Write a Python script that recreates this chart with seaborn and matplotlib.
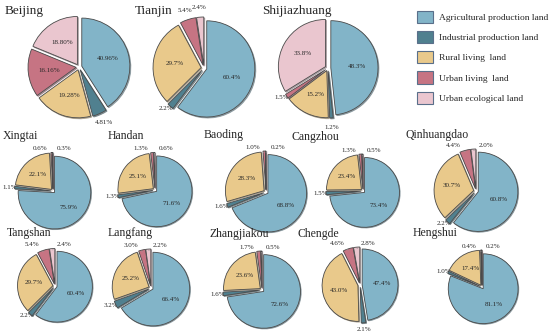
import numpy as np
import matplotlib
matplotlib.use('Agg')
import matplotlib.pyplot as plt
import seaborn as sns
from matplotlib.patches import Patch

sns.set_theme(style='white')
plt.rcParams['font.family'] = ['Liberation Serif', 'DejaVu Serif']

# land-use categories (legend order, pie order clockwise from 12 o'clock)
categories = ['Agricultural production land', 'Industrial production land',
              'Rural living  land', 'Urban living  land', 'Urban ecological land']

cities = ['Beijing', 'Tianjin', 'Shijiazhuang',
          'Xingtai', 'Handan', 'Baoding', 'Cangzhou', 'Qinhuangdao',
          'Tangshan', 'Langfang', 'Zhangjiakou', 'Chengde', 'Hengshui']

# shares in percent, one entry per city
agricultural = [40.96, 60.4, 48.3, 75.9, 71.6, 68.8, 73.4, 60.8, 60.4, 66.4, 72.6, 47.4, 81.1]
industrial = [4.81, 2.2, 1.2, 1.1, 1.3, 1.6, 1.5, 2.2, 2.2, 3.2, 1.6, 2.1, 1.0]
rural_living = [19.28, 29.7, 15.2, 22.1, 25.1, 28.3, 23.4, 30.7, 29.7, 25.2, 23.6, 43.0, 17.4]
urban_living = [16.16, 5.4, 1.5, 0.6, 1.3, 1.0, 1.3, 4.4, 5.4, 3.0, 1.7, 4.6, 0.4]
urban_ecological = [18.80, 2.4, 33.8, 0.3, 0.6, 0.2, 0.5, 2.0, 2.4, 2.2, 0.5, 2.8, 0.2]
decimals = [2] + [1] * 12

colors = sns.color_palette(['#82b4c8', '#50808f', '#e9c98b', '#c67483', '#eac6cf'])

W, H = 550, 336
EXPLODE = 0.06
L = 1.7

# pixel layout: pie centre x, y (from top), outer radius, title x, title y, title size
layout = {
    'Beijing':      (79, 67, 51, 5, 11, 9.5),
    'Tianjin':      (204, 68, 51, 135, 11, 9.5),
    'Shijiazhuang': (328, 68, 50, 262, 11, 9.5),
    'Xingtai':      (53, 191, 38.5, 3, 136, 8.5),
    'Handan':       (155, 190, 37.5, 108, 136, 8.5),
    'Baoding':      (266, 192, 41, 204, 135, 8.5),
    'Cangzhou':     (363, 191, 37, 292, 137, 8.5),
    'Qinhuangdao':  (476, 191, 42, 405, 135, 8.5),
    'Tangshan':     (55, 286, 37.5, 7, 233, 8.5),
    'Langfang':     (151, 288, 39, 108, 233, 8.5),
    'Zhangjiakou':  (262, 290, 39, 210, 234, 8.5),
    'Chengde':      (360, 285, 38, 297, 234, 8.5),
    'Hengshui':     (482, 287, 37, 413, 233, 8.5),
}
radial_small = {'Beijing', 'Tianjin', 'Shijiazhuang'}

fig = plt.figure(figsize=(W / 100, H / 100), dpi=100)


def draw_city(ax, name, values, dec):
    wedges, _ = ax.pie(values, colors=colors, startangle=90, counterclock=False,
                       explode=[EXPLODE] * len(values),
                       shadow=dict(ox=0.015, oy=-0.015, shade=0.5),
                       wedgeprops=dict(edgecolor='#4a4a4a', linewidth=0.6))
    small = [v < 6 for v in values]
    spread = small[3] and small[4] and name not in radial_small
    for i, (w, v) in enumerate(zip(wedges, values)):
        ang = np.deg2rad((w.theta1 + w.theta2) / 2)
        c, s = np.cos(ang), np.sin(ang)
        txt = f'{v:.{dec}f}%'
        if not small[i]:
            ax.text(0.62 * c, 0.62 * s, txt, ha='center', va='center', fontsize=5)
        elif spread and i >= 3:
            if i == 3:
                tx, ha = c - 0.12, 'right'
            else:
                tx, ha = c + 0.12, 'left'
            ax.annotate(txt, xy=(1.02 * c, 1.02 * s), xytext=(tx, 1.16),
                        ha=ha, va='center', fontsize=5,
                        arrowprops=dict(arrowstyle='-', color='#999999', lw=0.4,
                                        shrinkA=0, shrinkB=0))
        elif abs(s) > 0.85:
            ax.text(1.26 * c, 1.26 * s, txt, ha='center', va='center', fontsize=5)
        else:
            # side labels hug the pie edge, drawn just beneath the wedges
            ax.text(1.2 * c, 1.12 * s, txt, ha='center', va='center',
                    fontsize=5, zorder=0.5)


for k, name in enumerate(cities):
    cx, cy, ro, tx, ty, fs = layout[name]
    r = ro / (1 + EXPLODE)
    ax = fig.add_axes([(cx - L * r) / W, (H - cy - L * r) / H, 2 * L * r / W, 2 * L * r / H])
    vals = [agricultural[k], industrial[k], rural_living[k], urban_living[k], urban_ecological[k]]
    draw_city(ax, name, vals, decimals[k])
    ax.set_xlim(-L, L)
    ax.set_ylim(-L, L)
    ax.axis('off')
    fig.text(tx / W, 1 - ty / H, name, ha='left', va='center', fontsize=fs)

handles = [Patch(facecolor=col, edgecolor='#5a6f8a', linewidth=0.8) for col in colors]
fig.legend(handles, categories, loc='upper left', bbox_to_anchor=(417 / W, 1 - 11 / H),
           frameon=False, fontsize=6.8, borderpad=0, borderaxespad=0,
           handlelength=1.7, handleheight=1.6, labelspacing=0.85, handletextpad=0.65)

fig.savefig('out.png', dpi=100)
